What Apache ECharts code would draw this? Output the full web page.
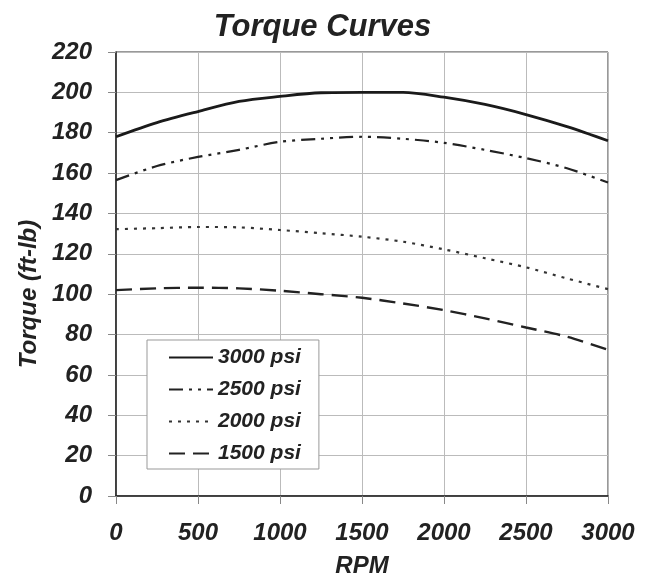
<!DOCTYPE html>
<html>
<head>
<meta charset="utf-8">
<script src="https://cdn.jsdelivr.net/npm/echarts@6/dist/echarts.min.js"></script>
<style>
html,body{margin:0;padding:0;background:#fff;}
#c{width:645px;height:581px;}
</style>
</head>
<body>
<div id="c"></div>
<script>
var rpm = [0, 250, 500, 750, 1000, 1250, 1500, 1750, 2000, 2250, 2500, 2750, 3000];
var psi3000 = [178, 185, 190.5, 195.5, 198, 199.8, 200, 200, 197.6, 194, 189, 183, 176];
var psi2500 = [156.5, 163.5, 168, 171.5, 175.5, 177, 178, 177, 175, 171.5, 167.4, 162.4, 155.3];
var psi2000 = [132.2, 132.7, 133.3, 133.1, 131.8, 130.2, 128.5, 126, 122.2, 117.8, 113.3, 107.8, 102.5];
var psi1500 = [102, 102.9, 103.2, 102.9, 101.7, 100, 98.2, 95.4, 92.1, 88, 83.5, 78.9, 72.5];
var seriesNames = ['3000 psi', '2500 psi', '2000 psi', '1500 psi'];
var xTicks = [0, 500, 1000, 1500, 2000, 2500, 3000];
var yTicks = [0, 20, 40, 60, 80, 100, 120, 140, 160, 180, 200, 220];

function pairs(v) { return rpm.map(function (r, i) { return [r, v[i]]; }); }

var font = 'Liberation Sans, Arial, sans-serif';
var txt = '#222';
var chart = echarts.init(document.getElementById('c'), null, {renderer: 'canvas'});
chart.setOption({
  backgroundColor: '#fff',
  animation: false,
  title: {
    text: 'Torque Curves', left: 'center', top: 7,
    textStyle: {fontFamily: font, fontSize: 31, fontWeight: 'bold', fontStyle: 'italic', color: txt}
  },
  grid: {left: 116, right: 37, top: 52, bottom: 85, outerBoundsMode: 'none', containLabel: false,
    show: true, borderColor: '#333', borderWidth: 1, backgroundColor: 'transparent'},
  legend: {
    orient: 'vertical', left: 147, top: 340,
    data: seriesNames,
    itemWidth: 44, itemHeight: 20, itemGap: 11,
    padding: [7, 18, 5, 21],
    backgroundColor: '#fff', borderColor: '#999', borderWidth: 1,
    itemStyle: {opacity: 0},
    textStyle: {fontFamily: font, fontSize: 21, lineHeight: 20, fontWeight: 'bold', fontStyle: 'italic', color: txt}
  },
  xAxis: {
    type: 'value', min: xTicks[0], max: xTicks[xTicks.length - 1], interval: 500,
    name: 'RPM', nameLocation: 'middle', nameGap: 58,
    nameTextStyle: {fontFamily: font, fontSize: 24, fontWeight: 'bold', fontStyle: 'italic', color: txt},
    axisLine: {show: true, lineStyle: {color: '#222', width: 1.5}},
    axisTick: {show: true, length: 8, lineStyle: {color: '#888'}},
    splitLine: {show: true, lineStyle: {color: '#bbb', width: 1}},
    axisLabel: {margin: 25, fontFamily: font, fontSize: 24, fontWeight: 'bold', fontStyle: 'italic', color: txt,
      formatter: function (v) { return String(v); }}
  },
  yAxis: {
    type: 'value', min: yTicks[0], max: yTicks[yTicks.length - 1], interval: 20,
    name: 'Torque (ft-lb)', nameLocation: 'middle', nameGap: 75,
    nameTextStyle: {fontFamily: font, fontSize: 24, fontWeight: 'bold', fontStyle: 'italic', color: txt, padding: [0, 40, 0, 0]},
    axisLine: {show: true, lineStyle: {color: '#222', width: 1.5}},
    axisTick: {show: true, length: 8, lineStyle: {color: '#888'}},
    splitLine: {show: true, lineStyle: {color: '#bbb', width: 1}},
    axisLabel: {margin: 24, fontFamily: font, fontSize: 24, fontWeight: 'bold', fontStyle: 'italic', color: txt,
      formatter: function (v) { return String(v); }}
  },
  series: [
    {name: seriesNames[0], type: 'line', data: pairs(psi3000), smooth: 0.3, symbol: 'none',
     lineStyle: {color: '#1a1a1a', width: 2.8, type: 'solid'}, itemStyle: {color: '#1a1a1a'}},
    {name: seriesNames[1], type: 'line', data: pairs(psi2500), smooth: 0.3, symbol: 'none',
     lineStyle: {color: '#222', width: 2.2, type: [14, 6, 3, 6, 3, 6]}, itemStyle: {color: '#222'}},
    {name: seriesNames[2], type: 'line', data: pairs(psi2000), smooth: 0.3, symbol: 'none',
     lineStyle: {color: '#333', width: 2.2, type: [3, 6]}, itemStyle: {color: '#333'}},
    {name: seriesNames[3], type: 'line', data: pairs(psi1500), smooth: 0.3, symbol: 'none',
     lineStyle: {color: '#222', width: 2.4, type: [16, 8]}, itemStyle: {color: '#222'}}
  ]
});
</script>
</body>
</html>
